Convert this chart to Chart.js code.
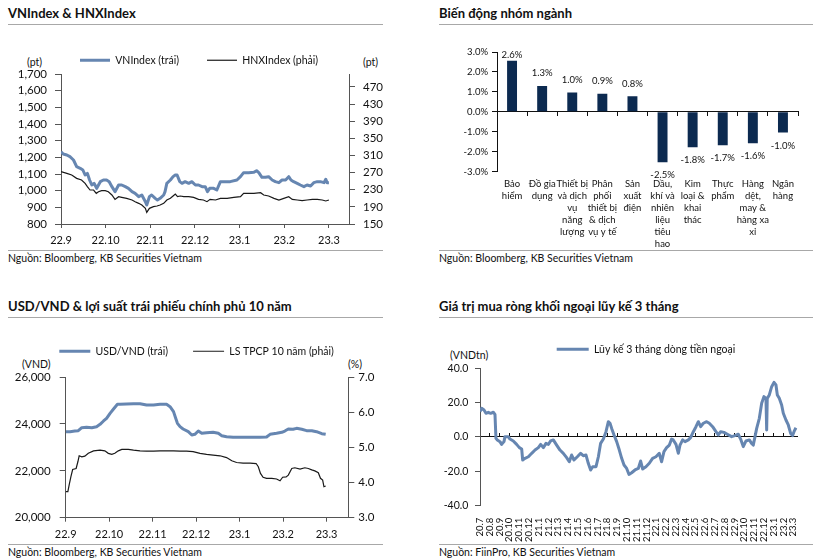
<!DOCTYPE html>
<html><head><meta charset="utf-8">
<script src="https://cdn.jsdelivr.net/npm/chart.js@4/dist/chart.umd.min.js"></script>
<style>
body{margin:0;width:831px;height:559px;background:#fff;position:relative;font-family:Lato,"Open Sans",sans-serif;overflow:hidden;color:#111}
.t{position:absolute;font-weight:bold;font-size:13px;line-height:16px;white-space:nowrap}
.hr{position:absolute;height:0;border-top:1px solid #a8a8a8}
.src{position:absolute;font-size:10.5px;line-height:12px;white-space:nowrap}
.ax{position:absolute;font-size:10.5px;line-height:12px;white-space:nowrap}
canvas{position:absolute}
</style></head><body>
<div class="t" style="left:8px;top:5px">VNIndex &amp; HNXIndex</div>
<div class="hr" style="left:8px;top:24px;width:375px"></div>
<div class="hr" style="left:8px;top:250px;width:375px"></div>
<div class="src" style="left:8px;top:252px">Nguồn: Bloomberg, KB Securities Vietnam</div>
<div class="ax" style="left:27px;top:56px">(pt)</div>
<div class="ax" style="left:363px;top:56px">(pt)</div>

<div class="t" style="left:439px;top:5px">Biến động nhóm ngành</div>
<div class="hr" style="left:439px;top:24px;width:374px"></div>
<div class="hr" style="left:439px;top:250px;width:374px"></div>
<div class="src" style="left:439px;top:252px">Nguồn: Bloomberg, KB Securities Vietnam</div>

<div class="t" style="left:8px;top:298px">USD/VND &amp; lợi suất trái phiếu chính phủ 10 năm</div>
<div class="hr" style="left:8px;top:317px;width:375px"></div>
<div class="hr" style="left:8px;top:544px;width:375px"></div>
<div class="src" style="left:8px;top:546px">Nguồn: Bloomberg, KB Securities Vietnam</div>
<div class="ax" style="left:22px;top:358px">(VND)</div>
<div class="ax" style="left:348px;top:358px">(%)</div>

<div class="t" style="left:439px;top:298px">Giá trị mua ròng khối ngoại lũy kế 3 tháng</div>
<div class="hr" style="left:439px;top:317px;width:374px"></div>
<div class="hr" style="left:439px;top:544px;width:374px"></div>
<div class="src" style="left:439px;top:546px">Nguồn: FiinPro, KB Securities Vietnam</div>
<div class="ax" style="left:450px;top:349px">(VNDtn)</div>

<canvas id="c1" width="410" height="225" style="left:0;top:25px;width:410px;height:225px"></canvas>
<canvas id="c2" width="400" height="225" style="left:420px;top:25px;width:400px;height:225px"></canvas>
<canvas id="c3" width="400" height="224" style="left:0;top:320px;width:400px;height:224px"></canvas>
<canvas id="c4" width="411" height="224" style="left:420px;top:320px;width:411px;height:224px"></canvas>

<script>
// ---------- DATA ----------
const monthLabels = ['22.9','22.10','22.11','22.12','23.1','23.2','23.3'];

const vnMonths = [0,0.05,0.13,0.20,0.28,0.35,0.43,0.49,0.54,0.59,
0.64,0.69,0.74,0.80,0.88,0.95,1.02,1.08,1.14,1.21,
1.29,1.36,1.44,1.51,1.59,1.66,1.74,1.81,1.89,1.92,
1.98,2.03,2.11,2.16,2.22,2.30,2.33,2.37,2.45,2.51,
2.56,2.60,2.66,2.71,2.78,2.86,2.93,3.01,3.08,3.16,
3.23,3.28,3.33,3.42,3.49,3.57,3.64,3.79,3.94,4.02,
4.09,4.20,4.32,4.38,4.43,4.50,4.58,4.65,4.73,4.80,
4.88,4.95,5.03,5.10,5.15,5.21,5.29,5.36,5.44,5.51,
5.59,5.66,5.74,5.81,5.89,5.93,5.96,6.00];
const vnIndex = [1234,1220,1214,1204,1184,1144,1134,1124,1094,1104,
1064,1034,1044,1014,1054,1064,1064,1054,1024,994,
1034,1034,1024,1014,994,984,964,974,934,914,
964,974,954,944,954,974,994,1044,1064,1084,
1094,1094,1054,1044,1054,1044,1054,1034,1034,1024,
1024,994,1014,1014,1004,1054,1054,1054,1064,1084,
1108,1108,1110,1120,1108,1080,1080,1084,1064,1054,
1048,1064,1064,1084,1064,1054,1044,1034,1024,1034,
1028,1048,1054,1054,1048,1068,1048,1048];

const hnxMonths = [0,0.13,0.24,0.35,0.46,0.54,0.59,0.65,0.73,0.79,
0.84,0.91,0.99,1.06,1.14,1.21,1.29,1.36,1.47,1.59,
1.66,1.74,1.81,1.89,1.92,1.98,2.07,2.15,2.22,2.30,
2.37,2.45,2.51,2.56,2.61,2.67,2.75,2.86,2.97,3.08,
3.19,3.27,3.34,3.46,3.57,3.72,3.87,4.02,4.09,4.32,
4.47,4.54,4.65,4.77,4.88,4.99,5.10,5.18,5.29,5.40,
5.51,5.63,5.74,5.85,5.93,6.00];
const hnxIndex = [272.1,268.2,264.3,256.5,252.7,244.9,237.1,229.3,229.3,221.6,
225.4,227.8,227.8,225.4,217.7,207.5,213.8,212.2,209.9,206.0,
202.1,198.2,194.3,186.5,177.2,186.5,190.4,192.0,194.3,198.2,
206.0,209.9,215.3,220.0,213.8,215.3,213.8,213.8,212.2,207.5,
206.0,202.1,207.5,206.0,209.9,209.9,212.2,213.8,221.6,221.6,
223.1,217.7,215.3,209.9,206.0,209.9,213.8,207.5,206.0,204.4,
206.0,207.5,207.5,206.0,203.7,206.0];
const hnxTicks = [150,190,230,270,310,350,390,430,470];

const sectorLabels = [['Bảo','hiểm'],['Đồ gia','dụng'],['Thiết bị','và dịch','vụ','năng','lượng'],
['Phân','phối','thiết bị','& dịch','vụ y tế'],['Sản','xuất','điện'],['Dầu,','khí và','nhiên','liệu','tiêu','hao'],
['Kim','loại &','khai','thác'],['Thực','phẩm'],['Hàng','dệt,','may &','hàng xa','xỉ'],['Ngân','hàng']];
const sectorChange = [2.56,1.30,0.97,0.91,0.78,-2.53,-1.78,-1.67,-1.57,-1.04];

const usdMonths = [0,0.10,0.21,0.29,0.37,0.48,0.60,0.71,0.79,0.87,
0.94,1.02,1.10,1.19,1.25,1.40,1.56,1.71,1.86,2.02,
2.17,2.32,2.40,2.48,2.53,2.57,2.63,2.70,2.82,2.90,
2.97,3.05,3.13,3.24,3.39,3.51,3.59,3.70,3.85,4.01,
4.16,4.31,4.47,4.62,4.70,4.85,4.97,5.04,5.12,5.23,
5.31,5.43,5.54,5.66,5.77,5.89,5.98];
const usdVnd = [23669,23669,23697,23711,23839,23853,23839,23881,23982,24124,
24238,24451,24636,24835,24835,24849,24863,24863,24807,24807,
24835,24835,24735,24522,24238,24025,23882,23783,23669,23527,
23555,23697,23598,23626,23640,23598,23498,23455,23427,23427,
23427,23427,23427,23441,23555,23598,23640,23697,23783,23769,
23811,23769,23711,23711,23669,23583,23555];

const yieldMonths = [0,0.05,0.08,0.12,0.16,0.24,0.28,0.31,0.37,0.44,
0.52,0.64,0.79,0.90,0.98,1.06,1.13,1.21,1.29,1.44,
1.56,1.71,1.86,2.02,2.17,2.32,2.48,2.63,2.78,2.93,
3.09,3.24,3.39,3.55,3.70,3.82,3.93,4.08,4.24,4.38,
4.43,4.48,4.54,4.62,4.74,4.85,4.93,4.99,5.07,5.12,
5.20,5.27,5.39,5.50,5.58,5.66,5.73,5.81,5.86,5.91,
5.94,5.98];
const bondYield10y = [3.74,3.74,3.93,4.17,4.37,4.40,4.59,4.76,4.73,4.75,
4.83,4.90,4.92,4.90,4.83,4.80,4.83,4.90,4.94,4.94,
4.92,4.90,4.89,4.89,4.90,4.90,4.90,4.89,4.89,4.88,
4.83,4.80,4.78,4.76,4.71,4.62,4.57,4.55,4.55,4.54,
4.45,4.26,4.15,4.12,4.12,4.10,4.05,4.15,4.16,4.21,
4.40,4.42,4.38,4.42,4.40,4.36,4.33,4.28,4.12,4.07,
3.88,3.90];

const flowLabels = ['20.7','20.8','20.9','20.10','20.11','20.12',
'21.1','21.2','21.3','21.4','21.5','21.6','21.7','21.8','21.9','21.10','21.11','21.12',
'22.1','22.2','22.3','22.4','22.5','22.6','22.7','22.8','22.9','22.10','22.11','22.12',
'23.1','23.2','23.3'];
const flowMonths = [0,0.17,0.41,0.61,0.85,1.09,1.36,1.53,1.63,1.77,
2.04,2.21,2.45,2.55,2.89,3.06,3.40,3.74,4.02,4.26,
4.36,4.60,4.94,5.28,5.62,5.96,6.20,6.47,6.74,6.98,
7.22,7.49,7.83,8.17,8.51,8.85,9.12,9.36,9.60,9.94,
10.28,10.55,10.83,11.06,11.30,11.51,11.85,12.09,12.32,12.60,
12.87,13.11,13.28,13.45,13.69,13.96,14.23,14.47,14.71,14.98,
15.22,15.49,15.83,16.17,16.41,16.61,16.95,17.29,17.63,17.97,
18.31,18.55,18.79,19.06,19.34,19.57,19.74,20.02,20.26,20.43,
20.70,20.94,21.28,21.51,21.79,22.06,22.30,22.54,22.81,23.15,
23.42,23.76,24.10,24.34,24.58,24.92,25.26,25.70,26.04,26.38,
26.62,26.89,27.17,27.51,27.74,27.91,28.09,28.26,28.53,28.77,
29.00,29.21,29.28,29.34,29.55,29.79,30.03,30.23,30.37,30.57,
30.81,30.98,31.25,31.49,31.73,31.93,32.07,32.27];
const foreignFlow3m = [14.8,16.7,15.7,13.8,14.4,13.8,14.4,13.2,-0.8,-1.7,
-2.7,-4.3,-2.7,0.2,0.2,-1.2,-2.3,-4.3,-6.2,-7.0,
-13.4,-12.4,-11.5,-9.5,-7.6,-6.2,-4.3,-6.2,-3.7,-4.3,
-2.3,-1.7,-4.7,-7.6,-9.5,-12.0,-14.4,-10.5,-13.4,-11.5,
-9.5,-10.9,-10.5,-15.3,-19.2,-17.3,-17.3,-11.5,-3.7,-1.2,
3.1,8.9,8.0,5.0,1.2,-2.7,-7.6,-12.4,-16.3,-18.3,
-21.8,-20.8,-19.2,-18.3,-14.0,-18.6,-17.3,-15.3,-12.4,-11.5,
-9.5,-14.4,-8.5,-6.2,-4.7,-1.2,-1.7,-4.3,-9.5,-4.7,
-1.7,-2.7,-1.7,-0.4,3.1,6.0,8.9,6.0,8.0,8.9,
8.0,6.0,3.1,1.2,3.1,2.7,1.6,0.2,0.8,1.6,
-1.2,-5.6,-2.3,-1.7,-3.7,-4.7,0.2,5.0,10.9,19.6,
23.5,22.5,4.1,22.5,24.5,29.3,31.8,30.3,24.5,22.5,
18.6,13.8,9.9,7.0,2.1,0.8,3.1,5.4];

// ---------- STYLE ----------
Chart.defaults.font.family = 'Lato, "Open Sans", sans-serif';
Chart.defaults.color = '#111';
Chart.defaults.animation = false;
Chart.defaults.plugins.tooltip.enabled = false;
const BLUE = '#6686b1', DARK = '#1a1a1a', NAVY = '#0c2a50', AXIS = '#555';

const legendFix = {
  id: 'legendFix',
  beforeLayout(chart, args, opts) {
    const lg = chart.legend;
    if (lg && !lg.__patched) {
      const orig = lg.fit;
      const h = opts.height;
      lg.fit = function () { orig.call(this); if (h != null) this.height = h; };
      lg.__patched = true;
    }
  },
  afterLayout(chart, args, opts) {
    const lg = chart.legend;
    if (lg && opts.shiftX) { lg.left += opts.shiftX; lg.right += opts.shiftX; }
  }
};
const barLabels = {
  id: 'barLabels',
  afterDatasetsDraw(chart) {
    const {ctx, chartArea} = chart;
    const meta = chart.getDatasetMeta(0);
    const vals = chart.data.datasets[0].data;
    ctx.save();
    ctx.font = '9.5px Lato';
    ctx.fillStyle = '#111';
    ctx.textAlign = 'center';
    ctx.textBaseline = 'middle';
    meta.data.forEach((bar, i) => {
      const v = vals[i];
      const y = v >= 0 ? Math.max(bar.y - 12.5, chartArea.top + 3) : bar.y + 13;
      ctx.fillText(v.toFixed(1) + '%', bar.x, y);
    });
    ctx.restore();
  }
};
const pts = (xs, ys) => xs.map((x, i) => ({x, y: ys[i]}));
const indexTicks = labels => s => { s.ticks = labels.map((_, i) => ({value: i})); };
const fixedTicks = arr => s => { s.ticks = arr.map(v => ({value: v})); };
const lineLegend = (w, pad, size) => ({display: true, position: 'top', align: 'start',
  labels: {usePointStyle: true, pointStyle: 'line', pointStyleWidth: w, padding: pad, font: {size: size}, color: '#111'}});

// ---------- 1: VNIndex & HNXIndex ----------
new Chart(document.getElementById('c1'), {
  type: 'line',
  data: {datasets: [
    {label: 'VNIndex (trái)', data: pts(vnMonths, vnIndex), yAxisID: 'y', borderColor: BLUE, borderWidth: 3, pointRadius: 0, borderJoinStyle: 'round'},
    {label: 'HNXIndex (phải)', data: pts(hnxMonths, hnxIndex), yAxisID: 'y1', borderColor: DARK, borderWidth: 1.2, pointRadius: 0}
  ]},
  options: {
    responsive: false,
    layout: {padding: {top: 2, left: 0, right: 0, bottom: 0}},
    plugins: {legend: lineLegend(30, 28, 10.5), legendFix: {height: 47, shiftX: 52}},
    scales: {
      x: {type: 'linear', min: 0, max: 6.45, afterBuildTicks: indexTicks(monthLabels),
        ticks: {callback: v => monthLabels[v], autoSkip: false, maxRotation: 0, padding: 6, font: {size: 11}},
        grid: {drawOnChartArea: false, tickLength: 4, color: AXIS}, border: {color: AXIS},
        afterFit: s => { s.height = 26; }},
      y: {position: 'left', min: 800, max: 1700,
        ticks: {stepSize: 100, autoSkip: false, callback: v => v.toLocaleString('en-US'), padding: 8, font: {size: 11.5}},
        grid: {drawOnChartArea: false, tickLength: 6, color: AXIS}, border: {color: AXIS},
        afterFit: s => { s.width = 61; }},
      y1: {position: 'right', min: 150, max: 500, afterBuildTicks: fixedTicks(hnxTicks),
        ticks: {autoSkip: false, padding: 8, font: {size: 11.5}},
        grid: {drawOnChartArea: false, tickLength: 6, color: AXIS}, border: {color: AXIS},
        afterFit: s => { s.width = 61; }}
    }
  },
  plugins: [legendFix]
});

// ---------- 2: sector bars ----------
new Chart(document.getElementById('c2'), {
  type: 'bar',
  data: {labels: sectorLabels, datasets: [{data: sectorChange, backgroundColor: NAVY, categoryPercentage: 1, barPercentage: 0.33, xAxisID: 'x', yAxisID: 'y'}]},
  options: {
    responsive: false,
    layout: {padding: {top: 27, right: 22, left: 0, bottom: 0}},
    plugins: {legend: {display: false}},
    scales: {
      x: {type: 'category', position: {y: 0}, offset: true, ticks: {display: false},
        grid: {drawOnChartArea: false, offset: true, tickLength: 4, color: '#111'}, border: {color: '#111'}},
      x2: {type: 'category', position: 'bottom', offset: true,
        grid: {display: false, drawTicks: false}, border: {display: false},
        ticks: {autoSkip: false, maxRotation: 0, padding: 6, font: {size: 9.5, lineHeight: 1.26}},
        afterFit: s => { s.height = 78.3; }},
      y: {min: -3, max: 3, ticks: {stepSize: 1, autoSkip: false, callback: v => v.toFixed(1) + '%', padding: 4, font: {size: 9.5}},
        grid: {drawOnChartArea: false, tickLength: 5, color: '#111'}, border: {color: '#111'},
        afterFit: s => { s.width = 77; }}
    }
  },
  plugins: [barLabels]
});

// ---------- 3: USD/VND & bond yield ----------
new Chart(document.getElementById('c3'), {
  type: 'line',
  data: {datasets: [
    {label: 'USD/VND (trái)', data: pts(usdMonths, usdVnd), yAxisID: 'y', borderColor: BLUE, borderWidth: 3, pointRadius: 0, borderJoinStyle: 'round'},
    {label: 'LS TPCP 10 năm (phải)', data: pts(yieldMonths, bondYield10y), yAxisID: 'y1', borderColor: DARK, borderWidth: 1.2, pointRadius: 0}
  ]},
  options: {
    responsive: false,
    layout: {padding: {top: 1, left: 0, right: 0, bottom: 0}},
    plugins: {legend: lineLegend(31, 25, 10.5), legendFix: {height: 56, shiftX: 34.3}},
    scales: {
      x: {type: 'linear', min: 0, max: 6.5, afterBuildTicks: indexTicks(monthLabels),
        ticks: {callback: v => monthLabels[v], autoSkip: false, maxRotation: 0, padding: 6, font: {size: 11}},
        grid: {drawOnChartArea: false, tickLength: 4, color: AXIS}, border: {color: AXIS},
        afterFit: s => { s.height = 26.3; }},
      y: {position: 'left', min: 20000, max: 26000,
        ticks: {stepSize: 2000, autoSkip: false, callback: v => v.toLocaleString('en-US'), padding: 9, font: {size: 11.5}},
        grid: {drawOnChartArea: false, tickLength: 6, color: AXIS}, border: {color: AXIS},
        afterFit: s => { s.width = 65.7; }},
      y1: {position: 'right', min: 3, max: 7,
        ticks: {stepSize: 1, autoSkip: false, callback: v => v.toFixed(1), padding: 4, font: {size: 11.5}},
        grid: {drawOnChartArea: false, tickLength: 6, color: AXIS}, border: {color: AXIS},
        afterFit: s => { s.width = 51.7; }}
    }
  },
  plugins: [legendFix]
});

// ---------- 4: foreign net buying ----------
new Chart(document.getElementById('c4'), {
  type: 'line',
  data: {datasets: [
    {label: 'Lũy kế 3 tháng dòng tiền ngoại', data: pts(flowMonths, foreignFlow3m), xAxisID: 'x', yAxisID: 'y', borderColor: BLUE, borderWidth: 3, pointRadius: 0, borderJoinStyle: 'round'}
  ]},
  options: {
    responsive: false,
    layout: {padding: {top: 14, left: 0, right: 33.3, bottom: 0}},
    plugins: {legend: lineLegend(32, 10, 10.5), legendFix: {height: 34.3, shiftX: 126.7}},
    scales: {
      x: {type: 'linear', position: {y: 0}, min: 0, max: 32.45, afterBuildTicks: indexTicks(flowLabels),
        ticks: {display: false},
        grid: {drawOnChartArea: false, tickLength: -4, color: '#111'}, border: {color: '#111'}},
      x2: {type: 'linear', position: 'bottom', min: 0, max: 32.45, afterBuildTicks: indexTicks(flowLabels),
        ticks: {callback: v => flowLabels[v], autoSkip: false, minRotation: 90, maxRotation: 90, padding: 12, font: {size: 9.5}},
        grid: {display: false, drawTicks: false}, border: {display: false},
        afterFit: s => { s.height = 38.3; }},
      y: {min: -40, max: 40, ticks: {stepSize: 20, autoSkip: false, callback: v => v.toFixed(1), padding: 6.7, font: {size: 10.5}},
        grid: {drawOnChartArea: false, tickLength: 5, color: AXIS}, border: {color: AXIS},
        afterFit: s => { s.width = 60; }}
    }
  },
  plugins: [legendFix]
});
</script>
</body></html>
